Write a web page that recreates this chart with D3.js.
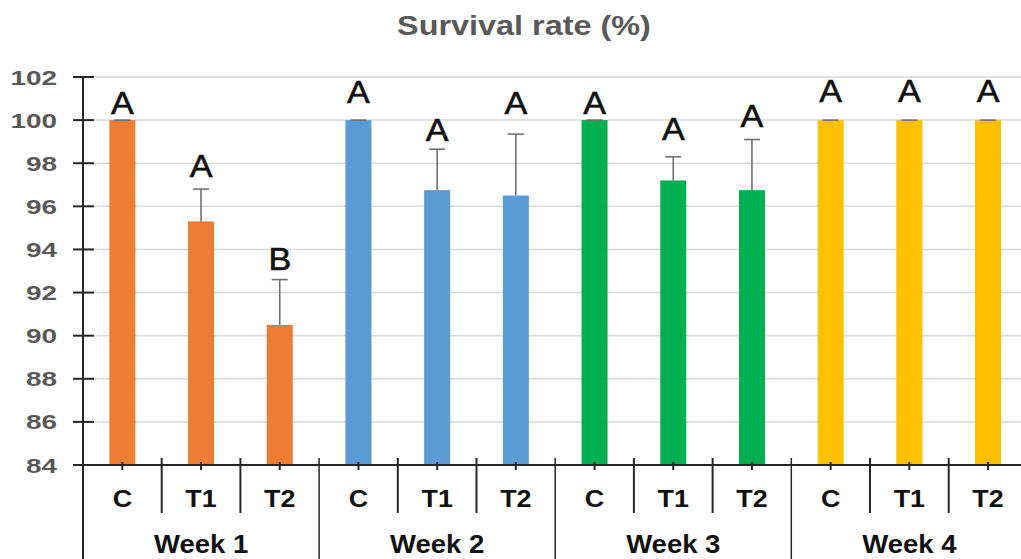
<!DOCTYPE html>
<html>
<head>
<meta charset="utf-8">
<script src="https://cdn.jsdelivr.net/npm/d3@7"></script>
<style>
  html, body { margin: 0; padding: 0; background: #fff; }
  svg { display: block; font-family: "Liberation Sans", Arial, sans-serif; }
</style>
</head>
<body>
<svg id="chart" width="1021" height="559"></svg>
<script>
// data
var weeks = ["Week 1", "Week 2", "Week 3", "Week 4"];
var treatments = ["C", "T1", "T2"];
var meanValues = [
    [100, 95.3, 90.5],
    [100, 96.75, 96.5],
    [100, 97.2, 96.75],
    [100, 100, 100]
];
var errValues = [
    [0, 1.5, 2.1],
    [0, 1.9, 2.85],
    [0, 1.1, 2.35],
    [0, 0, 0]
];
var letters = [
    ["A", "A", "B"],
    ["A", "A", "A"],
    ["A", "A", "A"],
    ["A", "A", "A"]
];
// value level where each letter sits (bottom of the glyph)
var letterLevels = [
    [100.3, 97.35, 93.05],
    [100.8, 99.05, 100.3],
    [100.3, 99.1, 99.7],
    [100.85, 100.85, 100.85]
];
var yTicks = [84, 86, 88, 90, 92, 94, 96, 98, 100, 102];

var colors = ["#ED7D31", "#5B9BD5", "#00B050", "#FFC000"];

var svg = d3.select("#chart");
var W = 1021, H = 559;

// flatten into bars
var bars = [];
weeks.forEach(function (w, i) {
    treatments.forEach(function (t, j) {
        bars.push({
            key: w + "|" + t, week: w, wi: i, trt: t,
            value: meanValues[i][j], err: errValues[i][j],
            letter: letters[i][j], level: letterLevels[i][j]
        });
    });
});

var step = 78.7, x0 = 83;
var x = d3.scaleBand()
    .domain(bars.map(function (d) { return d.key; }))
    .range([x0, x0 + step * bars.length])
    .padding(0);
var y = d3.scaleLinear().domain([84, 102]).range([465, 77]);
var barW = 26;

function stretched(sel, sx) {
    sel.attr("transform", function () {
        var t = d3.select(this);
        return "translate(" + t.attr("data-x") + "," + t.attr("data-y") + ") scale(" + sx + ",1)";
    });
}

// title
svg.append("text")
    .attr("data-x", 524).attr("data-y", 35)
    .attr("text-anchor", "middle")
    .attr("font-size", "27px").attr("font-weight", "bold")
    .attr("fill", "#595959")
    .text("Survival rate (%)")
    .call(stretched, 1.2);

// grid
svg.append("g").selectAll("line")
    .data(yTicks.filter(function (v) { return v > 84; }))
    .enter().append("line")
    .attr("x1", x0).attr("x2", W)
    .attr("y1", function (d) { return y(d); })
    .attr("y2", function (d) { return y(d); })
    .attr("stroke", "#d9d9d9").attr("stroke-width", 1.5);

// bars
svg.append("g").selectAll("rect")
    .data(bars).enter().append("rect")
    .attr("x", function (d) { return x(d.key) + x.bandwidth() / 2 - barW / 2; })
    .attr("y", function (d) { return y(d.value); })
    .attr("width", barW)
    .attr("height", function (d) { return y(84) - y(d.value); })
    .attr("fill", function (d) { return colors[d.wi]; });

// error bars (upper half only)
var eb = svg.append("g").attr("stroke", "#707070").attr("stroke-width", 1.6);
eb.selectAll("line.v").data(bars.filter(function (d) { return d.err > 0; }))
    .enter().append("line").attr("class", "v")
    .attr("x1", function (d) { return x(d.key) + x.bandwidth() / 2; })
    .attr("x2", function (d) { return x(d.key) + x.bandwidth() / 2; })
    .attr("y1", function (d) { return y(d.value); })
    .attr("y2", function (d) { return y(d.value + d.err); });
eb.selectAll("line.c").data(bars)
    .enter().append("line").attr("class", "c")
    .attr("x1", function (d) { return x(d.key) + x.bandwidth() / 2 - 8; })
    .attr("x2", function (d) { return x(d.key) + x.bandwidth() / 2 + 8; })
    .attr("y1", function (d) { return y(d.value + d.err); })
    .attr("y2", function (d) { return y(d.value + d.err); });

// letters
svg.append("g").selectAll("text")
    .data(bars).enter().append("text")
    .attr("data-x", function (d) { return x(d.key) + x.bandwidth() / 2; })
    .attr("data-y", function (d) { return y(d.level); })
    .attr("text-anchor", "middle")
    .attr("font-size", "31px")
    .attr("fill", "#111").attr("stroke", "#111").attr("stroke-width", 0.6)
    .text(function (d) { return d.letter; })
    .call(stretched, 1.1);

// y axis
var ax = svg.append("g").attr("stroke", "#262626");
ax.append("line")
    .attr("x1", x0).attr("x2", x0)
    .attr("y1", y(102)).attr("y2", H)
    .attr("stroke-width", 2);
ax.selectAll("line.t").data(yTicks).enter().append("line").attr("class", "t")
    .attr("x1", x0 - 10).attr("x2", x0 + 11)
    .attr("y1", function (d) { return y(d); })
    .attr("y2", function (d) { return y(d); })
    .attr("stroke-width", 2);

svg.append("g").selectAll("text")
    .data(yTicks).enter().append("text")
    .attr("data-x", 57)
    .attr("data-y", function (d) { return y(d) + 7.5; })
    .attr("text-anchor", "end")
    .attr("font-size", "21px").attr("font-weight", "bold")
    .attr("fill", "#595959")
    .text(function (d) { return d; })
    .call(stretched, 1.33);

// x axis
ax.append("line")
    .attr("x1", x0 - 10).attr("x2", W)
    .attr("y1", y(84)).attr("y2", y(84))
    .attr("stroke-width", 2.2);
ax.selectAll("line.m").data(bars).enter().append("line").attr("class", "m")
    .attr("x1", function (d) { return x(d.key) + x.bandwidth() / 2; })
    .attr("x2", function (d) { return x(d.key) + x.bandwidth() / 2; })
    .attr("y1", y(84) - 3).attr("y2", y(84) + 5)
    .attr("stroke-width", 2);

// separators between categories and weeks
ax.selectAll("line.s").data(d3.range(1, bars.length + 1)).enter().append("line").attr("class", "s")
    .attr("x1", function (k) { return x0 + k * x.step(); })
    .attr("x2", function (k) { return x0 + k * x.step(); })
    .attr("y1", y(84) - 7)
    .attr("y2", function (k) { return k % 3 === 0 ? H : 513; })
    .attr("stroke-width", function (k) { return k % 3 === 0 ? 1.5 : 2; });

svg.append("g").selectAll("text")
    .data(bars).enter().append("text")
    .attr("data-x", function (d) { return x(d.key) + x.bandwidth() / 2; })
    .attr("data-y", 507)
    .attr("text-anchor", "middle")
    .attr("font-size", "24px").attr("font-weight", "bold")
    .attr("fill", "#111")
    .text(function (d) { return d.trt; })
    .call(stretched, 1.12);

svg.append("g").selectAll("text")
    .data(weeks).enter().append("text")
    .attr("data-x", function (d, i) { return x0 + (i * 3 + 1.5) * x.step(); })
    .attr("data-y", 553)
    .attr("text-anchor", "middle")
    .attr("font-size", "25px").attr("font-weight", "bold")
    .attr("fill", "#111")
    .text(function (d) { return d; })
    .call(stretched, 1.1);
</script>
</body>
</html>
